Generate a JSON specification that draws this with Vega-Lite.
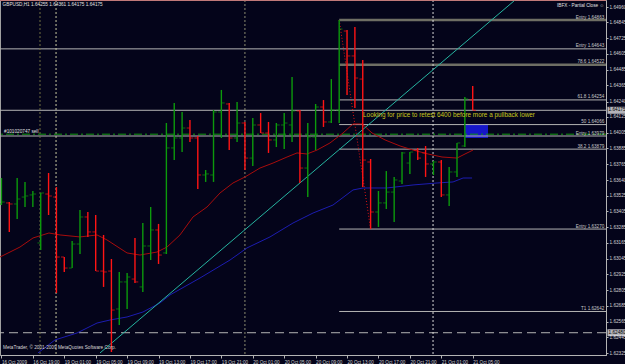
{
  "$schema": "https://vega.github.io/schema/vega-lite/v6.json",
  "width": 606,
  "height": 355,
  "autosize": {"type": "none"},
  "padding": {"left": 0, "top": 0, "right": 19, "bottom": 9},
  "background": "#04041a",
  "config": {
    "font": "Liberation Sans",
    "view": {"stroke": "#a0a0a0", "strokeWidth": 1},
    "axis": {"grid": false, "labelColor": "#d0d0d0", "tickColor": "#b4b4b4", "domainColor": "#b4b4b4", "labelOverlap": false, "labelFlush": false, "labelBound": false}
  },
  "resolve": {"scale": {"color": "independent", "size": "independent"}},
  "datasets": {
    "bars": [
      {"k":-1,"o":1.63461,"h":1.63659,"l":1.63453,"c":1.63476,"dir":"up"},
      {"k":0,"o":1.63469,"h":1.63476,"l":1.63248,"c":1.63461,"dir":"down"},
      {"k":1,"o":1.63461,"h":1.63659,"l":1.63347,"c":1.63499,"dir":"up"},
      {"k":2,"o":1.63514,"h":1.63629,"l":1.63438,"c":1.63522,"dir":"up"},
      {"k":3,"o":1.6353,"h":1.6356,"l":1.63438,"c":1.63537,"dir":"up"},
      {"k":4,"o":1.63164,"h":1.63545,"l":1.6311,"c":1.63545,"dir":"up"},
      {"k":5,"o":1.63537,"h":1.63697,"l":1.63377,"c":1.63522,"dir":"down"},
      {"k":6,"o":1.63514,"h":1.6359,"l":1.62783,"c":1.63057,"dir":"down"},
      {"k":7,"o":1.63057,"h":1.63057,"l":1.62943,"c":1.62973,"dir":"down"},
      {"k":8,"o":1.62973,"h":1.63179,"l":1.62973,"c":1.63156,"dir":"up"},
      {"k":9,"o":1.63156,"h":1.63415,"l":1.6308,"c":1.63362,"dir":"up"},
      {"k":10,"o":1.63362,"h":1.634,"l":1.6321,"c":1.63248,"dir":"down"},
      {"k":11,"o":1.63248,"h":1.63377,"l":1.6295,"c":1.6295,"dir":"down"},
      {"k":12,"o":1.6295,"h":1.63225,"l":1.62829,"c":1.62943,"dir":"down"},
      {"k":13,"o":1.6295,"h":1.63042,"l":1.62333,"c":1.62653,"dir":"down"},
      {"k":14,"o":1.62661,"h":1.62943,"l":1.62539,"c":1.62867,"dir":"up"},
      {"k":15,"o":1.62867,"h":1.62935,"l":1.62661,"c":1.62905,"dir":"up"},
      {"k":16,"o":1.62889,"h":1.63202,"l":1.62859,"c":1.62867,"dir":"down"},
      {"k":17,"o":1.62829,"h":1.63316,"l":1.6279,"c":1.63141,"dir":"up"},
      {"k":18,"o":1.63141,"h":1.63438,"l":1.63034,"c":1.63263,"dir":"up"},
      {"k":19,"o":1.63263,"h":1.63309,"l":1.63004,"c":1.63072,"dir":"down"},
      {"k":20,"o":1.63088,"h":1.64078,"l":1.6308,"c":1.63888,"dir":"up"},
      {"k":21,"o":1.63888,"h":1.64231,"l":1.63796,"c":1.63964,"dir":"up"},
      {"k":22,"o":1.63964,"h":1.64162,"l":1.63857,"c":1.6404,"dir":"up"},
      {"k":23,"o":1.6404,"h":1.64101,"l":1.63933,"c":1.63964,"dir":"down"},
      {"k":24,"o":1.63964,"h":1.63979,"l":1.63575,"c":1.63682,"dir":"down"},
      {"k":25,"o":1.63682,"h":1.6372,"l":1.63629,"c":1.6369,"dir":"up"},
      {"k":26,"o":1.63682,"h":1.64177,"l":1.63629,"c":1.64162,"dir":"up"},
      {"k":27,"o":1.64162,"h":1.6433,"l":1.63964,"c":1.64231,"dir":"up"},
      {"k":28,"o":1.64223,"h":1.64231,"l":1.63872,"c":1.63964,"dir":"down"},
      {"k":29,"o":1.63964,"h":1.64238,"l":1.63933,"c":1.64078,"dir":"up"},
      {"k":30,"o":1.64078,"h":1.64086,"l":1.6372,"c":1.63811,"dir":"down"},
      {"k":31,"o":1.63811,"h":1.64116,"l":1.63751,"c":1.64063,"dir":"up"},
      {"k":32,"o":1.64063,"h":1.64154,"l":1.64002,"c":1.64002,"dir":"down"},
      {"k":33,"o":1.64002,"h":1.64086,"l":1.6385,"c":1.63949,"dir":"down"},
      {"k":34,"o":1.63949,"h":1.64078,"l":1.63895,"c":1.64063,"dir":"up"},
      {"k":35,"o":1.64063,"h":1.64154,"l":1.6388,"c":1.64078,"dir":"up"},
      {"k":36,"o":1.64063,"h":1.64429,"l":1.63933,"c":1.6417,"dir":"up"},
      {"k":37,"o":1.6417,"h":1.64177,"l":1.63621,"c":1.63735,"dir":"down"},
      {"k":38,"o":1.63735,"h":1.64078,"l":1.63514,"c":1.63972,"dir":"up"},
      {"k":39,"o":1.63972,"h":1.64223,"l":1.63872,"c":1.642,"dir":"up"},
      {"k":40,"o":1.642,"h":1.64253,"l":1.64048,"c":1.64086,"dir":"down"},
      {"k":41,"o":1.64086,"h":1.64413,"l":1.64078,"c":1.64177,"dir":"up"},
      {"k":42,"o":1.64177,"h":1.64863,"l":1.64078,"c":1.64794,"dir":"up"},
      {"k":43,"o":1.64779,"h":1.64787,"l":1.64292,"c":1.64589,"dir":"down"},
      {"k":44,"o":1.64589,"h":1.6481,"l":1.64192,"c":1.64421,"dir":"down"},
      {"k":45,"o":1.64413,"h":1.64558,"l":1.6359,"c":1.63796,"dir":"down"},
      {"k":46,"o":1.63781,"h":1.63804,"l":1.6327,"c":1.634,"dir":"down"},
      {"k":47,"o":1.634,"h":1.6356,"l":1.63286,"c":1.63469,"dir":"up"},
      {"k":48,"o":1.63469,"h":1.63712,"l":1.63423,"c":1.63552,"dir":"up"},
      {"k":49,"o":1.63552,"h":1.63667,"l":1.63324,"c":1.63644,"dir":"up"},
      {"k":50,"o":1.63636,"h":1.63857,"l":1.63613,"c":1.6385,"dir":"up"},
      {"k":51,"o":1.63773,"h":1.63857,"l":1.6369,"c":1.63857,"dir":"up"},
      {"k":52,"o":1.63872,"h":1.63888,"l":1.63796,"c":1.63811,"dir":"down"},
      {"k":53,"o":1.6385,"h":1.63903,"l":1.63667,"c":1.63766,"dir":"down"},
      {"k":54,"o":1.63766,"h":1.63789,"l":1.63682,"c":1.63781,"dir":"up"},
      {"k":55,"o":1.63781,"h":1.63796,"l":1.63514,"c":1.6353,"dir":"down"},
      {"k":56,"o":1.6353,"h":1.63743,"l":1.63446,"c":1.63705,"dir":"up"},
      {"k":57,"o":1.63705,"h":1.63926,"l":1.63667,"c":1.63926,"dir":"up"},
      {"k":58,"o":1.63903,"h":1.64276,"l":1.63895,"c":1.64261,"dir":"up"},
      {"k":59,"o":1.64255,"h":1.64361,"l":1.64175,"c":1.64175,"dir":"down"}
    ],
    "ma": [
      {"ma":"MA1","k":-1.18,"p":1.63057},{"ma":"MA1","k":1.36,"p":1.63133},{"ma":"MA1","k":3.02,"p":1.63202},{"ma":"MA1","k":5.05,"p":1.6324},{"ma":"MA1","k":6.46,"p":1.63225},{"ma":"MA1","k":9.0,"p":1.6321},{"ma":"MA1","k":11.17,"p":1.63225},{"ma":"MA1","k":12.44,"p":1.63187},{"ma":"MA1","k":14.99,"p":1.63088},{"ma":"MA1","k":16.64,"p":1.63072},{"ma":"MA1","k":18.81,"p":1.63095},{"ma":"MA1","k":20.08,"p":1.63133},{"ma":"MA1","k":21.73,"p":1.63225},{"ma":"MA1","k":23.39,"p":1.63362},{"ma":"MA1","k":25.17,"p":1.63438},{"ma":"MA1","k":26.83,"p":1.63545},{"ma":"MA1","k":28.48,"p":1.63621},{"ma":"MA1","k":30.01,"p":1.63667},{"ma":"MA1","k":31.92,"p":1.63735},{"ma":"MA1","k":33.58,"p":1.63773},{"ma":"MA1","k":35.36,"p":1.63819},{"ma":"MA1","k":36.63,"p":1.6385},{"ma":"MA1","k":37.9,"p":1.63842},{"ma":"MA1","k":39.18,"p":1.63872},{"ma":"MA1","k":40.83,"p":1.63926},{"ma":"MA1","k":42.49,"p":1.64002},{"ma":"MA1","k":43.76,"p":1.64071},{"ma":"MA1","k":44.91,"p":1.64071},{"ma":"MA1","k":46.18,"p":1.64002},{"ma":"MA1","k":47.84,"p":1.63949},{"ma":"MA1","k":49.75,"p":1.63903},{"ma":"MA1","k":51.4,"p":1.63872},{"ma":"MA1","k":53.31,"p":1.63842},{"ma":"MA1","k":55.09,"p":1.63819},{"ma":"MA1","k":57.0,"p":1.63811},{"ma":"MA1","k":58.02,"p":1.63842},{"ma":"MA1","k":59.04,"p":1.63872},
      {"ma":"MA2","k":3.65,"p":1.62326},{"ma":"MA2","k":5.82,"p":1.62425},{"ma":"MA2","k":8.62,"p":1.62478},{"ma":"MA2","k":11.17,"p":1.62554},{"ma":"MA2","k":12.82,"p":1.62577},{"ma":"MA2","k":14.99,"p":1.626},{"ma":"MA2","k":17.02,"p":1.62638},{"ma":"MA2","k":19.19,"p":1.62707},{"ma":"MA2","k":20.46,"p":1.62768},{"ma":"MA2","k":24.28,"p":1.62897},{"ma":"MA2","k":28.1,"p":1.63034},{"ma":"MA2","k":30.26,"p":1.63126},{"ma":"MA2","k":33.19,"p":1.6321},{"ma":"MA2","k":36.12,"p":1.63316},{"ma":"MA2","k":38.67,"p":1.63392},{"ma":"MA2","k":41.21,"p":1.63453},{"ma":"MA2","k":43.76,"p":1.63568},{"ma":"MA2","k":45.04,"p":1.63583},{"ma":"MA2","k":48.09,"p":1.63583},{"ma":"MA2","k":51.4,"p":1.63606},{"ma":"MA2","k":54.46,"p":1.63621},{"ma":"MA2","k":56.5,"p":1.63629},{"ma":"MA2","k":57.77,"p":1.63659},{"ma":"MA2","k":58.92,"p":1.63659}
    ],
    "levels": [
      {"k0":42,"p":1.64863,"kind":"dim","t":"Entry 1.64863"},
      {"k0":42,"p":1.64522,"kind":"dim","t":"78.6 1.64522"},
      {"k0":42,"p":1.64254,"kind":"light","t":"61.8 1.64254"},
      {"k0":42,"p":1.64066,"kind":"light","t":"50 1.64066"},
      {"k0":42,"p":1.63879,"kind":"light","t":"38.2 1.63879"},
      {"k0":42,"p":1.6327,"kind":"light","t":"Entry 1.63270"},
      {"k0":42,"p":1.62642,"kind":"light","t":"T1 1.62642"}
    ],
    "full": [
      {"p":1.64643,"t":"Entry 1.64643"},
      {"p":1.64175,"t":""},
      {"p":1.63979,"t":"Entry 1.63979"}
    ],
    "verticals": [
      {"k":3.91,"kind":"a"},{"k":5.95,"kind":"b"},{"k":30.0,"kind":"c"},{"k":53.95,"kind":"d"}
    ],
    "highlight": [
      {"p":1.64175,"t":"1.64175"},
      {"p":1.6248,"t":"1.62480"}
    ]
  },
  "layer": [
    {
      "data": {"values": [{"k1":58.03,"k2":60.95,"p1":1.64071,"p2":1.63964}]},
      "mark": {"type":"rect","color":"#1616c8"},
      "encoding": {
        "x": {"field":"k1","type":"quantitative","scale":{"domain":[-1.184,75.97],"nice":false,"zero":false},
          "axis":{"title":null,"orient":"bottom","values":[-1,3,7,11,15,19,23,27,31,35,39,43,47,51,55,59],"tickCount":100,
            "labelExpr":"['16 Oct 2009','16 Oct 19:00','19 Oct 01:00','19 Oct 05:00','19 Oct 09:00','19 Oct 13:00','19 Oct 17:00','19 Oct 21:00','20 Oct 01:00','20 Oct 05:00','20 Oct 09:00','20 Oct 13:00','20 Oct 17:00','20 Oct 21:00','21 Oct 01:00','21 Oct 05:00'][(datum.value+1)/4]",
            "labelAlign":"left","labelBaseline":"top","labelPadding":1,"labelDx":1,"labelFontSize":4.6,"tickSize":3,"labelOverlap":false,"labelSeparation":0}},
        "x2": {"field":"k2"},
        "y": {"field":"p1","type":"quantitative","scale":{"domain":[1.623103,1.650154],"nice":false,"zero":false},
          "axis":{"title":null,"orient":"right","values":[1.6496,1.64845,1.64725,1.64605,1.64485,1.64365,1.6424,1.64125,1.64005,1.63885,1.63765,1.6364,1.63525,1.63405,1.63285,1.63165,1.63045,1.62925,1.62805,1.62685,1.62565,1.62445,1.62325],"tickCount":100,
            "format":".5f","labelFontSize":4.7,"labelPadding":1,"labelBaseline":"middle","tickSize":2,"labelOverlap":false,"labelSeparation":0}},
        "y2": {"field":"p2"}
      }
    },
    {
      "data": {"name":"full"},
      "mark": {"type":"rule","color":"#b4b4b4","strokeWidth":1},
      "encoding": {"y":{"field":"p","type":"quantitative","scale":{"domain":[1.623103,1.650154],"nice":false,"zero":false}}}
    },
    {
      "data": {"values":[{"p":1.6248}]},
      "mark": {"type":"rule","color":"#b4b4b4","strokeWidth":1,"strokeDash":[9,5]},
      "encoding": {"y":{"field":"p","type":"quantitative","scale":{"domain":[1.623103,1.650154],"nice":false,"zero":false}}}
    },
    {
      "data": {"name":"levels"},
      "mark": {"type":"rule"},
      "encoding": {
        "x":{"field":"k0","type":"quantitative","scale":{"domain":[-1.184,75.97],"nice":false,"zero":false}},
        "x2":{"datum":75.97},
        "y":{"field":"p","type":"quantitative","scale":{"domain":[1.623103,1.650154],"nice":false,"zero":false}},
        "color":{"field":"kind","type":"nominal","scale":{"domain":["dim","light"],"range":["#6e6e64","#b4b4b4"]},"legend":null},
        "size":{"field":"kind","type":"nominal","scale":{"domain":["dim","light"],"range":[2.5,1]},"legend":null}
      }
    },
    {
      "data": {"name":"verticals"},
      "mark": {"type":"rule","strokeDash":[2,2],"strokeWidth":1},
      "encoding": {
        "x":{"field":"k","type":"quantitative","scale":{"domain":[-1.184,75.97],"nice":false,"zero":false}},
        "color":{"field":"kind","type":"nominal","scale":{"domain":["a","b","c","d"],"range":["#6e6e40","#c8c8a0","#8c8c70","#d8d8d8"]},"legend":null}
      }
    },
    {
      "data": {"values":[{"p":1.63993}]},
      "mark": {"type":"rule","color":"#129a12","strokeWidth":1,"strokeDash":[8,3,2,3]},
      "encoding": {"y":{"field":"p","type":"quantitative","scale":{"domain":[1.623103,1.650154],"nice":false,"zero":false}}}
    },
    {
      "data": {"name":"ma"},
      "mark": {"type":"line","strokeWidth":1,"clip":true},
      "encoding": {
        "x":{"field":"k","type":"quantitative","scale":{"domain":[-1.184,75.97],"nice":false,"zero":false}},
        "y":{"field":"p","type":"quantitative","scale":{"domain":[1.623103,1.650154],"nice":false,"zero":false}},
        "color":{"field":"ma","type":"nominal","scale":{"domain":["MA1","MA2"],"range":["#a80c0c","#1c1cb0"]},"legend":null}
      }
    },
    {
      "data": {"values":[{"k":11.55,"p":1.62326},{"k":64.39,"p":1.65015}]},
      "mark": {"type":"line","color":"#26b4a0","strokeWidth":1,"clip":true},
      "encoding": {
        "x":{"field":"k","type":"quantitative","scale":{"domain":[-1.184,75.97],"nice":false,"zero":false}},
        "y":{"field":"p","type":"quantitative","scale":{"domain":[1.623103,1.650154],"nice":false,"zero":false}}
      }
    },
    {
      "data": {"values":[{"k":42,"p":1.64863},{"k":46,"p":1.6327}]},
      "mark": {"type":"line","color":"#e01414","strokeWidth":1,"strokeDash":[1,2]},
      "encoding": {
        "x":{"field":"k","type":"quantitative","scale":{"domain":[-1.184,75.97],"nice":false,"zero":false}},
        "y":{"field":"p","type":"quantitative","scale":{"domain":[1.623103,1.650154],"nice":false,"zero":false}}
      }
    },
    {
      "data": {"name":"bars"},
      "mark": {"type":"rule","strokeWidth":1.4,"clip":true},
      "encoding": {
        "x":{"field":"k","type":"quantitative","scale":{"domain":[-1.184,75.97],"nice":false,"zero":false}},
        "y":{"field":"l","type":"quantitative","scale":{"domain":[1.623103,1.650154],"nice":false,"zero":false}},
        "y2":{"field":"h"},
        "color":{"field":"dir","type":"nominal","scale":{"domain":["up","down"],"range":["#0c9a0c","#ff1414"]},"legend":null}
      }
    },
    {
      "data": {"name":"bars"},
      "mark": {"type":"tick","orient":"horizontal","size":3,"thickness":1,"xOffset":-1.8,"clip":true},
      "encoding": {
        "x":{"field":"k","type":"quantitative","scale":{"domain":[-1.184,75.97],"nice":false,"zero":false}},
        "y":{"field":"o","type":"quantitative","scale":{"domain":[1.623103,1.650154],"nice":false,"zero":false}},
        "color":{"field":"dir","type":"nominal","scale":{"domain":["up","down"],"range":["#0c9a0c","#ff1414"]},"legend":null}
      }
    },
    {
      "data": {"name":"bars"},
      "mark": {"type":"tick","orient":"horizontal","size":3,"thickness":1,"xOffset":1.8,"clip":true},
      "encoding": {
        "x":{"field":"k","type":"quantitative","scale":{"domain":[-1.184,75.97],"nice":false,"zero":false}},
        "y":{"field":"c","type":"quantitative","scale":{"domain":[1.623103,1.650154],"nice":false,"zero":false}},
        "color":{"field":"dir","type":"nominal","scale":{"domain":["up","down"],"range":["#0c9a0c","#ff1414"]},"legend":null}
      }
    },
    {
      "data": {"name":"levels"},
      "mark": {"type":"text","align":"right","baseline":"bottom","dy":-0.5,"fontSize":4.6,"color":"#c8c8c8"},
      "encoding": {
        "x":{"datum":75.75,"type":"quantitative","scale":{"domain":[-1.184,75.97],"nice":false,"zero":false}},
        "y":{"field":"p","type":"quantitative","scale":{"domain":[1.623103,1.650154],"nice":false,"zero":false}},
        "text":{"field":"t"}
      }
    },
    {
      "data": {"name":"full"},
      "mark": {"type":"text","align":"right","baseline":"bottom","dy":-0.5,"fontSize":4.6,"color":"#c8c8c8"},
      "encoding": {
        "x":{"datum":75.75,"type":"quantitative","scale":{"domain":[-1.184,75.97],"nice":false,"zero":false}},
        "y":{"field":"p","type":"quantitative","scale":{"domain":[1.623103,1.650154],"nice":false,"zero":false}},
        "text":{"field":"t"}
      }
    },
    {
      "data": {"values":[{"t":"Looking for price to retest 6400 before more a pullback lower"}]},
      "mark": {"type":"text","align":"left","baseline":"middle","fontSize":6.4,"color":"#c8c81e"},
      "encoding": {
        "x":{"datum":45.04,"type":"quantitative","scale":{"domain":[-1.184,75.97],"nice":false,"zero":false}},
        "y":{"datum":1.64139,"type":"quantitative","scale":{"domain":[1.623103,1.650154],"nice":false,"zero":false}},
        "text":{"field":"t"}
      }
    },
    {
      "data": {"values":[{"t":"GBPUSD,H1  1.64255 1.64361 1.64175 1.64175"}]},
      "mark": {"type":"text","align":"left","baseline":"middle","fontSize":4.7,"color":"#e0e0e0"},
      "encoding": {
        "x":{"datum":-0.85,"type":"quantitative","scale":{"domain":[-1.184,75.97],"nice":false,"zero":false}},
        "y":{"datum":1.64978,"type":"quantitative","scale":{"domain":[1.623103,1.650154],"nice":false,"zero":false}},
        "text":{"field":"t"}
      }
    },
    {
      "data": {"values":[{"t":"IBFX - Partial Close ☺"}]},
      "mark": {"type":"text","align":"right","baseline":"middle","fontSize":4.7,"color":"#e0e0e0"},
      "encoding": {
        "x":{"datum":75.75,"type":"quantitative","scale":{"domain":[-1.184,75.97],"nice":false,"zero":false}},
        "y":{"datum":1.6497,"type":"quantitative","scale":{"domain":[1.623103,1.650154],"nice":false,"zero":false}},
        "text":{"field":"t"}
      }
    },
    {
      "data": {"values":[{"t":"MetaTrader, © 2001-2009 MetaQuotes Software Corp."}]},
      "mark": {"type":"text","align":"left","baseline":"middle","fontSize":4.7,"color":"#d8d8d8"},
      "encoding": {
        "x":{"datum":-0.8,"type":"quantitative","scale":{"domain":[-1.184,75.97],"nice":false,"zero":false}},
        "y":{"datum":1.62364,"type":"quantitative","scale":{"domain":[1.623103,1.650154],"nice":false,"zero":false}},
        "text":{"field":"t"}
      }
    },
    {
      "data": {"values":[{"t":"#101020747 sell"}]},
      "mark": {"type":"text","align":"left","baseline":"middle","fontSize":4.7,"color":"#e0e0e0"},
      "encoding": {
        "x":{"datum":-0.67,"type":"quantitative","scale":{"domain":[-1.184,75.97],"nice":false,"zero":false}},
        "y":{"datum":1.6401,"type":"quantitative","scale":{"domain":[1.623103,1.650154],"nice":false,"zero":false}},
        "text":{"field":"t"}
      }
    },
    {
      "data": {"values":[{"p":1.65013}]},
      "mark": {"type":"rule","color":"#c87070","strokeWidth":1},
      "encoding": {"y":{"field":"p","type":"quantitative","scale":{"domain":[1.623103,1.650154],"nice":false,"zero":false}}}
    },
    {
      "data": {"name":"highlight"},
      "mark": {"type":"tick","orient":"horizontal","size":18,"thickness":7,"color":"#ffffff","clip":false},
      "encoding": {
        "x":{"datum":77.3,"type":"quantitative","scale":{"domain":[-1.184,75.97],"nice":false,"zero":false}},
        "y":{"field":"p","type":"quantitative","scale":{"domain":[1.623103,1.650154],"nice":false,"zero":false}}
      }
    },
    {
      "data": {"name":"highlight"},
      "mark": {"type":"text","align":"left","baseline":"middle","fontSize":4.7,"color":"#000000","clip":false},
      "encoding": {
        "x":{"datum":76.3,"type":"quantitative","scale":{"domain":[-1.184,75.97],"nice":false,"zero":false}},
        "y":{"field":"p","type":"quantitative","scale":{"domain":[1.623103,1.650154],"nice":false,"zero":false}},
        "text":{"field":"t"}
      }
    }
  ]
}
